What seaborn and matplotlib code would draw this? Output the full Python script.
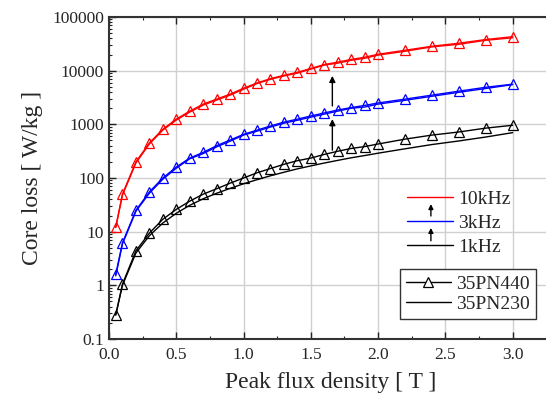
import numpy as np
import pandas as pd
import matplotlib
matplotlib.use('Agg')
import matplotlib.pyplot as plt
import seaborn as sns
from matplotlib.lines import Line2D
from matplotlib.ticker import MultipleLocator, LogLocator, FixedLocator, FixedFormatter

# 磁通密度 [T]
flux = [0.05, 0.1, 0.2, 0.3, 0.4, 0.5, 0.6, 0.7, 0.8, 0.9, 1.0,
        1.1, 1.2, 1.3, 1.4, 1.5, 1.6, 1.7, 1.8, 1.9, 2.0,
        2.2, 2.4, 2.6, 2.8, 3.0]

# 35PN440 (with markers)
loss_440_10k = [12, 50, 200, 450, 810, 1250, 1760, 2380, 2950, 3650, 4700,
                5900, 7100, 8200, 9300, 11000, 13000, 14400, 16200, 17800, 20200,
                24000, 28500, 32500, 38000, 43000]
loss_440_3k = [1.6, 6.2, 25, 55, 100, 160, 235, 300, 400, 510, 650,
               780, 930, 1100, 1250, 1430, 1630, 1850, 2050, 2250, 2500,
               2950, 3500, 4150, 4900, 5600]
loss_440_1k = [0.28, 1.05, 4.4, 9.4, 17, 26, 37, 50, 63, 80, 100,
               125, 150, 180, 210, 235, 275, 315, 355, 385, 430,
               530, 630, 720, 850, 960]

# 35PN230 (plain lines)
loss_230_10k = [12, 48, 190, 430, 780, 1200, 1690, 2280, 2830, 3500, 4500,
                5750, 6900, 7950, 9000, 10700, 12700, 13800, 15600, 17000, 19500,
                23000, 27700, 31000, 36800, 41000]
loss_230_3k = [1.5, 5.9, 24, 52, 95, 152, 228, 285, 380, 485, 630,
               745, 890, 1050, 1190, 1360, 1550, 1760, 2000, 2100, 2380,
               2800, 3330, 3950, 4650, 5500]
loss_230_1k = [0.28, 1.0, 4.0, 8.4, 14.5, 22, 31, 41, 52, 64, 78,
               93, 110, 128, 148, 168, 190, 213, 238, 262, 290,
               350, 420, 490, 580, 700]

freq_labels = ['10kHz', '3kHz', '1kHz']
freq_colors = ['red', 'blue', 'black']
material_labels = ['35PN440', '35PN230']

sns.set_style('ticks')
plt.rcParams['font.family'] = ['Liberation Serif', 'DejaVu Serif']

fig = plt.figure(figsize=(5.46, 3.96), dpi=100)
ax = fig.add_axes([109 / 546, 57 / 396, 444 / 546, 322 / 396])

series_230 = [loss_230_10k, loss_230_3k, loss_230_1k]
series_440 = [loss_440_10k, loss_440_3k, loss_440_1k]

# 先画 35PN230，再画 35PN440
for vals, c in zip(series_230, freq_colors):
    sns.lineplot(x=flux, y=vals, color=c, lw=1.0, sort=False, legend=False, ax=ax)
for vals, c in zip(series_440, freq_colors):
    sns.lineplot(x=flux, y=vals, color=c, lw=1.0, marker='^', markersize=7,
                 markerfacecolor='none', markeredgecolor=c, markeredgewidth=0.9,
                 sort=False, legend=False, ax=ax)

ax.set_yscale('log')
ax.set_ylim(0.1, 100000)
ax.set_xlim(0, 3.3)

ax.xaxis.set_major_locator(MultipleLocator(0.5))
ax.xaxis.set_minor_locator(MultipleLocator(0.25))
ax.xaxis.set_major_formatter(matplotlib.ticker.FormatStrFormatter('%.1f'))
yt = [0.1, 1, 10, 100, 1000, 10000, 100000]
ax.yaxis.set_major_locator(FixedLocator(yt))
ax.yaxis.set_major_formatter(FixedFormatter(['0.1', '1', '10', '100', '1000', '10000', '100000']))
ax.yaxis.set_minor_locator(LogLocator(base=10, subs=np.arange(2, 10)))

ax.tick_params(which='both', direction='in', top=True, right=False, labelsize=12.5,
               color='#222222')
ax.tick_params(which='major', length=5, width=1.0)
ax.tick_params(which='minor', length=2.5, width=0.8)
ax.tick_params(axis='x', which='major', pad=6)

ax.grid(True, which='major', color='#d0d0d0', lw=1.0)
ax.set_axisbelow(True)
for side in ['left', 'bottom', 'top']:
    ax.spines[side].set_linewidth(1.5)
    ax.spines[side].set_color('#333333')
ax.spines['right'].set_visible(False)

ax.set_xlabel('Peak flux density [ T ]', fontsize=17, labelpad=6)
ax.set_ylabel('Core loss [ W/kg ]', fontsize=17, labelpad=7)

# 增长箭头
arrow_kw = dict(arrowstyle='-|>', color='black', lw=1.0, mutation_scale=9,
                shrinkA=0, shrinkB=0)
ax.annotate('', xy=(1.66, 1250), xytext=(1.66, 330), arrowprops=arrow_kw)
ax.annotate('', xy=(1.66, 8000), xytext=(1.66, 2200), arrowprops=arrow_kw)

# 频率图例
freq_handles = [Line2D([], [], color=c, lw=1.0) for c in freq_colors]
leg1 = ax.legend(freq_handles, freq_labels, loc='upper left',
                 bbox_to_anchor=(0.671, 0.462), frameon=False, fontsize=14,
                 borderpad=0, borderaxespad=0, handlelength=2.35,
                 handletextpad=0.3, labelspacing=0.32)
ax.add_artist(leg1)
small_arrow = dict(arrowstyle='-|>', color='black', lw=1.0, mutation_scale=7,
                   shrinkA=0, shrinkB=0)
ax.annotate('', xy=(0.725, 0.419), xytext=(0.725, 0.382), xycoords='axes fraction',
            textcoords='axes fraction', arrowprops=small_arrow)
ax.annotate('', xy=(0.725, 0.345), xytext=(0.725, 0.305), xycoords='axes fraction',
            textcoords='axes fraction', arrowprops=small_arrow)

# 材料图例
mat_handles = [Line2D([], [], color='black', lw=1.0, marker='^', markersize=7,
                      markerfacecolor='white', markeredgewidth=0.9),
               Line2D([], [], color='black', lw=1.0)]
leg2 = ax.legend(mat_handles, material_labels, loc='lower right',
                 bbox_to_anchor=(0.962, 0.062), fontsize=14, fancybox=False,
                 edgecolor='#333333', framealpha=1, borderpad=0.3, borderaxespad=0,
                 handlelength=2.3, handletextpad=0.3, labelspacing=0.15)
leg2.get_frame().set_linewidth(1.0)

fig.savefig('out.png', dpi=100)
